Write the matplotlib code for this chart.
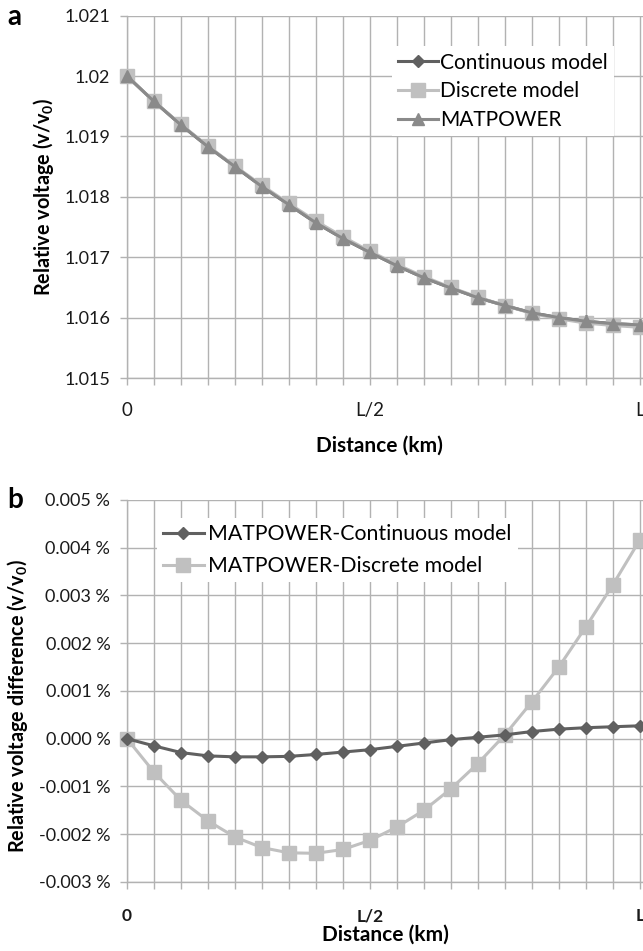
import matplotlib
matplotlib.use('Agg')
import matplotlib.pyplot as plt

plt.rcParams['font.family'] = ['Lato', 'DejaVu Sans']
plt.rcParams['mathtext.fontset'] = 'custom'
plt.rcParams['mathtext.rm'] = 'Lato'
plt.rcParams['mathtext.bf'] = 'Lato:bold'

# Position index along the line (0 .. L), 20 nodes
positions = list(range(20))
xtick_labels = {0: '0', 9: 'L/2', 19: 'L'}

# Panel a: relative voltage (v/v0)
continuous_v = [1.0200, 1.01958, 1.01919, 1.01883, 1.01850, 1.01817, 1.01787, 1.01757,
                1.01731, 1.01708, 1.01686, 1.01666, 1.01649, 1.01633, 1.01620, 1.01608,
                1.01600, 1.01594, 1.01590, 1.01588]
discrete_v = [1.0200, 1.01958, 1.01920, 1.01884, 1.01851, 1.01819, 1.01789, 1.01760,
              1.01734, 1.01710, 1.01688, 1.01668, 1.01650, 1.01634, 1.01620, 1.01607,
              1.01598, 1.01591, 1.01587, 1.01584]
matpower_v = [1.0200, 1.01958, 1.01919, 1.01883, 1.01850, 1.01817, 1.01787, 1.01757,
              1.01731, 1.01708, 1.01686, 1.01666, 1.01649, 1.01633, 1.01620, 1.01608,
              1.01600, 1.01594, 1.01590, 1.01588]

# Panel b: relative voltage difference (%)
diff_continuous = [0.0, -0.00015, -0.00029, -0.00036, -0.00038, -0.00038, -0.00037, -0.00033,
                   -0.00028, -0.00023, -0.00016, -0.00009, -0.00002, 0.00003, 0.00008, 0.00015,
                   0.00020, 0.00023, 0.00025, 0.00027]
diff_discrete = [0.0, -0.00070, -0.00129, -0.00172, -0.00206, -0.00228, -0.00239, -0.00240,
                 -0.00232, -0.00213, -0.00185, -0.00150, -0.00105, -0.00052, 0.00008, 0.00077,
                 0.00150, 0.00234, 0.00322, 0.00416]

dark = '#606060'
light = '#c0c0c0'
mid = '#8a8a8a'
grid_c = '#b2b2b2'
text_c = '#1a1a1a'

fig = plt.figure(figsize=(6.43, 9.51), dpi=100)
ax1 = fig.add_axes([0.1975, 0.6025, 0.8025, 0.381])
ax2 = fig.add_axes([0.1975, 0.0726, 0.8025, 0.4017])


def style_axis(ax):
    ax.set_xlim(0, 19.12)
    ax.set_xticks(positions)
    ax.set_xticklabels([xtick_labels.get(p, '') for p in positions])
    ax.grid(True, color=grid_c, linewidth=1.0)
    ax.set_axisbelow(True)
    for s in ['top', 'right']:
        ax.spines[s].set_visible(False)
    for s in ['left', 'bottom']:
        ax.spines[s].set_color(grid_c)
        ax.spines[s].set_linewidth(1.0)
    ax.tick_params(axis='both', direction='out', length=5, color=grid_c, width=1.0,
                   labelcolor=text_c)
    ax.tick_params(axis='y', pad=7)


# Panel a
style_axis(ax1)
ax1.plot(positions, continuous_v, color=dark, marker='D', markersize=6.5, linewidth=2.2,
         label='Continuous model', clip_on=False, zorder=3)
ax1.plot(positions, discrete_v, color=light, marker='s', markersize=9.5, linewidth=2.2,
         label='Discrete model', clip_on=False, zorder=4)
ax1.plot(positions, matpower_v, color=mid, marker='^', markersize=9, linewidth=2.2,
         label='MATPOWER', clip_on=False, zorder=5)
ax1.set_ylim(1.015, 1.021)
ax1.set_yticks([1.015, 1.016, 1.017, 1.018, 1.019, 1.020, 1.021])
ax1.set_yticklabels(['1.015', '1.016', '1.017', '1.018', '1.019', '1.02', '1.021'])
ax1.tick_params(axis='y', labelsize=13)
ax1.tick_params(axis='x', labelsize=13.5, pad=12)
ax1.set_ylabel(r'Relative voltage (v/v$_\mathbf{0}$)', fontsize=14.3, fontweight='bold')
ax1.yaxis.set_label_coords(-0.138, 0.5)
ax1.set_xlabel('Distance (km)', fontsize=15, fontweight='bold')
ax1.xaxis.set_label_coords(0.49, -0.16)
ax1.legend(loc='upper left', bbox_to_anchor=(0.513, 0.915), borderaxespad=0,
           fontsize=15, frameon=True, fancybox=False, edgecolor='none',
           framealpha=1.0, facecolor='white', handlelength=1.9,
           handletextpad=0.12, labelspacing=0.42, borderpad=0.3)
fig.text(0.012, 0.982, 'a', fontsize=20, fontweight='bold', va='center', ha='left')

# Panel b
style_axis(ax2)
ax2.plot(positions, diff_continuous, color=dark, marker='D', markersize=6.5, linewidth=2.2,
         label='MATPOWER-Continuous model', clip_on=False, zorder=4)
ax2.plot(positions, diff_discrete, color=light, marker='s', markersize=10, linewidth=2.2,
         label='MATPOWER-Discrete model', clip_on=False, zorder=3)
ax2.set_ylim(-0.003, 0.005)
yt = [-0.003, -0.002, -0.001, 0.0, 0.001, 0.002, 0.003, 0.004, 0.005]
ax2.set_yticks(yt)
ax2.set_yticklabels(['%.3f %%' % v for v in yt])
ax2.tick_params(axis='y', labelsize=13)
ax2.tick_params(axis='x', labelsize=12.5, pad=14)
for lbl in ax2.get_xticklabels():
    lbl.set_fontweight('bold')
ax2.set_ylabel(r'Relative voltage difference (v/v$_\mathbf{0}$)', fontsize=14.3, fontweight='bold')
ax2.yaxis.set_label_coords(-0.188, 0.46)
ax2.set_xlabel('Distance (km)', fontsize=15, fontweight='bold')
ax2.xaxis.set_label_coords(0.5, -0.113)
ax2.legend(loc='upper left', bbox_to_anchor=(0.058, 0.953), borderaxespad=0,
           fontsize=15.3, frameon=True, fancybox=False, edgecolor='none',
           framealpha=1.0, facecolor='white', handlelength=1.9,
           handletextpad=0.2, labelspacing=0.55, borderpad=0.3)
fig.text(0.012, 0.474, 'b', fontsize=20, fontweight='bold', va='center', ha='left')

fig.savefig('out.png', dpi=100)
